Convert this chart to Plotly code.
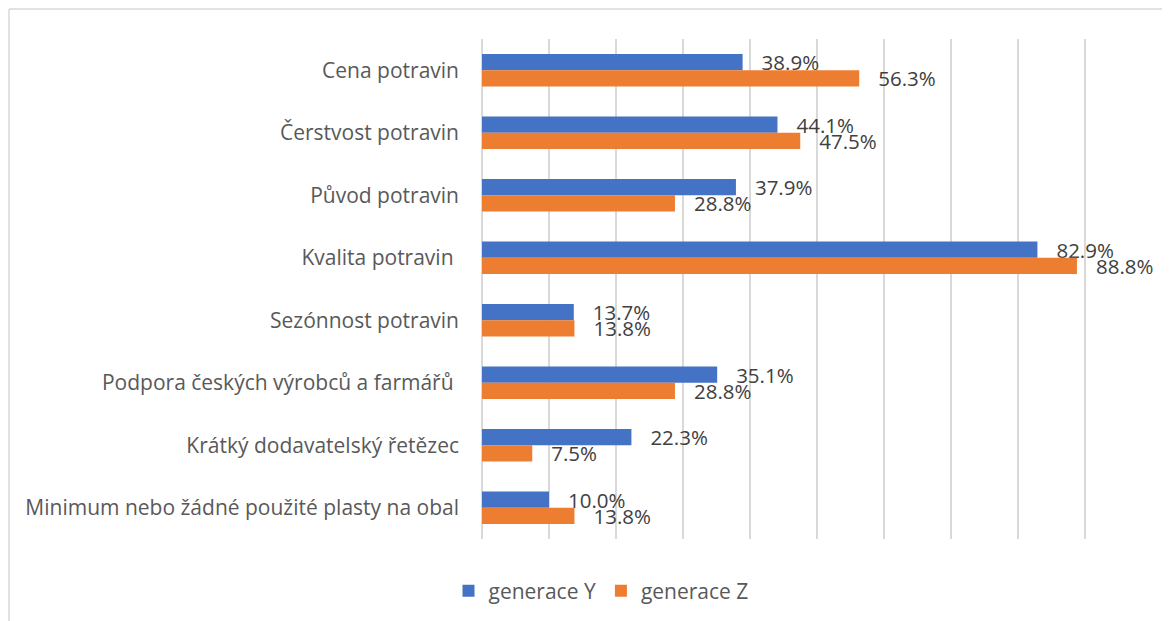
import plotly.graph_objects as go

categories = [
    "Cena potravin",
    "Čerstvost potravin",
    "Původ potravin",
    "Kvalita potravin ",
    "Sezónnost potravin",
    "Podpora českých výrobců a farmářů ",
    "Krátký dodavatelský řetězec",
    "Minimum nebo žádné použité plasty na obal",
]
gen_y = [38.9, 44.1, 37.9, 82.9, 13.7, 35.1, 22.3, 10.0]
gen_z = [56.3, 47.5, 28.8, 88.8, 13.8, 28.8, 7.5, 13.8]
series_names = ["generace Y", "generace Z"]
colors = ["#4472C4", "#ED7D31"]

FONT = "Open Sans"
OFF = 8  # page body margin
W, H = 1170 - OFF, 621 - OFF
L, R, T, B = 482 - OFF, 18, 39 - OFF, 82

fig = go.Figure()
for name, vals, col in zip(series_names, [gen_y, gen_z], colors):
    fig.add_trace(go.Bar(
        y=categories, x=vals, name=name, orientation="h",
        marker=dict(color=col, line=dict(width=0)),
        texttemplate="\u00a0\u00a0\u00a0%{x:.1f}%",
        textposition="outside", constraintext="none", cliponaxis=False,
        textfont=dict(family=FONT, size=20.5, color="#404040"),
        hoverinfo="skip",
    ))

pw = W - L - R
ph = H - T - B
fig.add_shape(type="line", xref="paper", yref="paper",
              x0=(9 - OFF - L) / pw, x1=(W - L) / pw,
              y0=(H - B - (9 - OFF)) / ph, y1=(H - B - (9 - OFF)) / ph,
              line=dict(color="#d9d9d9", width=1.5))
fig.add_shape(type="line", xref="paper", yref="paper",
              x0=(9 - OFF - L) / pw, x1=(9 - OFF - L) / pw,
              y0=(H - B - (9 - OFF)) / ph, y1=-B / ph,
              line=dict(color="#d9d9d9", width=1.5))

fig.update_layout(
    width=W, height=H,
    margin=dict(l=L, r=R, t=T, b=B, autoexpand=False),
    paper_bgcolor="white", plot_bgcolor="white",
    barmode="group", bargap=0.48, bargroupgap=0,
    font=dict(family=FONT, size=21, color="#595959"),
    xaxis=dict(range=[0, 100], dtick=10, showticklabels=False,
               showgrid=True, gridcolor="#d9d9d9", gridwidth=1.5,
               zeroline=True, zerolinecolor="#d9d9d9", zerolinewidth=1.5,
               showline=False, fixedrange=True, automargin=False),
    yaxis=dict(categoryorder="array", categoryarray=categories,
               autorange="reversed", showgrid=False, showline=False,
               ticks="", ticklabelstandoff=22, automargin=False,
               tickfont=dict(family=FONT, size=21, color="#595959")),
    legend=dict(orientation="h", x=(601 - OFF - L) / pw, xanchor="center",
                y=-(591 - OFF - (H - B)) / ph, yanchor="middle",
                font=dict(family=FONT, size=21, color="#595959"),
                itemsizing="constant", traceorder="normal", itemwidth=30),
    showlegend=True,
)

fig.write_html("out.html")
